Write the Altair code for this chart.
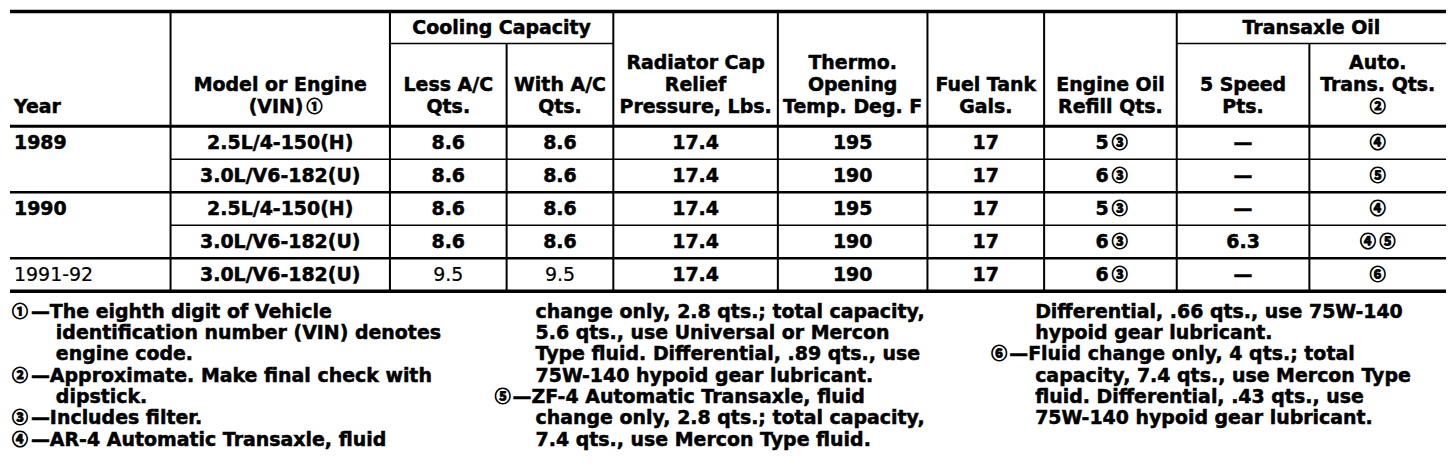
import pandas as pd
import altair as alt

# table body, one entry per row
years = ["1989", "", "1990", "", "1991-92"]
engines = ["2.5L/4-150(H)", "3.0L/V6-182(U)", "2.5L/4-150(H)", "3.0L/V6-182(U)", "3.0L/V6-182(U)"]
less_ac = ["8.6", "8.6", "8.6", "8.6", "9.5"]
with_ac = ["8.6", "8.6", "8.6", "8.6", "9.5"]
radiator_cap = ["17.4", "17.4", "17.4", "17.4", "17.4"]
thermo = ["195", "190", "195", "190", "190"]
fuel_tank = ["17", "17", "17", "17", "17"]
engine_oil = ["5③", "6③", "5③", "6③", "6③"]
five_speed = ["—", "—", "—", "6.3", "—"]
auto_trans = ["④", "⑤", "④", "④ ⑤", "⑥"]
light_rows = [4]  # 1991-92 row is printed lighter in year / cooling columns

headers = [
    ["Year"],
    ["Model or Engine", "(VIN)①"],
    ["Less A/C", "Qts."],
    ["With A/C", "Qts."],
    ["Radiator Cap", "Relief", "Pressure, Lbs."],
    ["Thermo.", "Opening", "Temp. Deg. F"],
    ["Fuel Tank", "Gals."],
    ["Engine Oil", "Refill Qts."],
    ["5 Speed", "Pts."],
    ["Auto.", "Trans. Qts.", "②"],
]
group_titles = ["Cooling Capacity", "Transaxle Oil"]

notes_left = [
    "①—The eighth digit of Vehicle",
    "identification number (VIN) denotes",
    "engine code.",
    "②—Approximate. Make final check with",
    "dipstick.",
    "③—Includes filter.",
    "④—AR-4 Automatic Transaxle, fluid",
]
notes_mid = [
    "change only, 2.8 qts.; total capacity,",
    "5.6 qts., use Universal or Mercon",
    "Type fluid. Differential, .89 qts., use",
    "75W-140 hypoid gear lubricant.",
    "⑤—ZF-4 Automatic Transaxle, fluid",
    "change only, 2.8 qts.; total capacity,",
    "7.4 qts., use Mercon Type fluid.",
]
notes_right = [
    "Differential, .66 qts., use 75W-140",
    "hypoid gear lubricant.",
    "⑥—Fluid change only, 4 qts.; total",
    "capacity, 7.4 qts., use Mercon Type",
    "fluid. Differential, .43 qts., use",
    "75W-140 hypoid gear lubricant.",
]

# ---- layout
W, H = 1440, 452
edges = [0, 161, 381, 498, 605, 770, 920, 1037, 1170, 1303, 1440]
group_spans = [(2, 4), (8, 10)]
top_y, group_line_y, head_y, row_h = 3, 35, 118, 33.1
head_last, head_step, group_text_y = 99, 22, 19
note_cols = [(2, 21, 46), (486, 504, 527), (984, 1002, 1028)]
note_y0, note_step = 304, 21.4
FONT = "DejaVu Sans"
CIRCLE_FONT = "Noto Sans CJK JP"
CIRCLES = "①②③④⑤⑥"
HEAD_SIZE, BODY_SIZE, NOTE_SIZE, CIRCLE_SIZE = 19, 19, 19, 16

columns = [years, engines, less_ac, with_ac, radiator_cap, thermo,
           fuel_tank, engine_oil, five_speed, auto_trans]
n_rows = len(engines)
bottom_y = head_y + row_h * n_rows
mids = [(edges[i] + edges[i + 1]) / 2 for i in range(len(edges) - 1)]

# grid lines
lines = [dict(x=0, x2=W, y=top_y, y2=top_y, w=3.5),
         dict(x=0, x2=W, y=head_y, y2=head_y, w=3)]
for a, b in group_spans:
    lines.append(dict(x=edges[a], x2=edges[b], y=group_line_y, y2=group_line_y, w=1.5))
for k in range(n_rows):
    y = head_y + row_h * (k + 1)
    full = k == n_rows - 1 or years[k + 1] != ""
    lines.append(dict(x=0 if full else edges[1], x2=W, y=y, y2=y,
                      w=3.5 if k == n_rows - 1 else (2.5 if full else 1.5)))
inner = [a + 1 for a, b in group_spans]
for i in range(1, len(edges) - 1):
    lines.append(dict(x=edges[i], x2=edges[i], y=group_line_y if i in inner else top_y,
                      y2=bottom_y, w=2))
lines = pd.DataFrame(lines)

# texts
texts = []


def add(x, y, t, align, size, weight="bold"):
    if not t:
        return
    head = t.rstrip(CIRCLES + " ")
    tail = t[len(head):]
    if not tail:
        texts.append(dict(x=x, y=y, text=t, align=align, font=FONT, size=size, weight=weight))
        return
    if not head:
        texts.append(dict(x=x, y=y, text=tail, align=align, font=CIRCLE_FONT,
                          size=CIRCLE_SIZE, weight="bold"))
        return
    # prefix + circled digit, centered as a pair
    hw = len(head) * 0.66 * size
    split = x - (hw + CIRCLE_SIZE) / 2 + hw
    texts.append(dict(x=split, y=y, text=head, align="right", font=FONT, size=size, weight=weight))
    texts.append(dict(x=split + 3, y=y, text=tail.strip(), align="left", font=CIRCLE_FONT,
                      size=CIRCLE_SIZE, weight="bold"))


for c, hdr in enumerate(headers):
    n = len(hdr)
    for j, t in enumerate(hdr):
        y = head_last - head_step * (n - 1 - j)
        add(4 if c == 0 else mids[c], y, t, "left" if c == 0 else "center", HEAD_SIZE)
for (a, b), t in zip(group_spans, group_titles):
    add((edges[a] + edges[b]) / 2, group_text_y, t, "center", HEAD_SIZE)
for c, col in enumerate(columns):
    for r, t in enumerate(col):
        y = head_y + row_h * (r + 0.5)
        weight = "normal" if (r in light_rows and c in (0, 2, 3)) else "bold"
        add(4 if c == 0 else mids[c], y, t, "left" if c == 0 else "center", BODY_SIZE, weight)
for block, (mx, dx, cx) in zip([notes_left, notes_mid, notes_right], note_cols):
    for j, t in enumerate(block):
        y = note_y0 + note_step * j
        if t[0] in CIRCLES:
            add(mx, y, t[0], "left", NOTE_SIZE)
            add(dx, y, t[1:], "left", NOTE_SIZE)
        else:
            add(cx, y, t, "left", NOTE_SIZE)
texts = pd.DataFrame(texts)

xs = alt.Scale(domain=[0, W], nice=False, zero=False)
ys = alt.Scale(domain=[0, H], nice=False, zero=False, reverse=True)

grid = alt.Chart(lines).mark_rule(color="black").encode(
    x=alt.X("x:Q", scale=xs, axis=None),
    x2="x2:Q",
    y=alt.Y("y:Q", scale=ys, axis=None),
    y2="y2:Q",
    strokeWidth=alt.StrokeWidth("w:Q", scale=None),
)

layers = [grid]
style_cols = ["align", "font", "size", "weight"]
for key, sub in texts.groupby(style_cols, sort=False):
    align, font, size, weight = key
    if font == CIRCLE_FONT:
        sw = 0.9
    elif weight == "bold":
        sw = 0.5
    else:
        sw = 0.2
    layers.append(
        alt.Chart(sub[["x", "y", "text"]]).mark_text(
            align=align, baseline="middle", font=font, fontSize=float(size),
            fontWeight=weight, color="black", stroke="black", strokeWidth=sw,
        ).encode(
            x=alt.X("x:Q", scale=xs, axis=None),
            y=alt.Y("y:Q", scale=ys, axis=None),
            text="text:N",
        )
    )

chart = alt.layer(*layers).properties(
    width=W, height=H, padding=0, background="white"
).configure_view(stroke=None)

chart.save("out.html", embed_options={"renderer": "svg", "actions": False})
